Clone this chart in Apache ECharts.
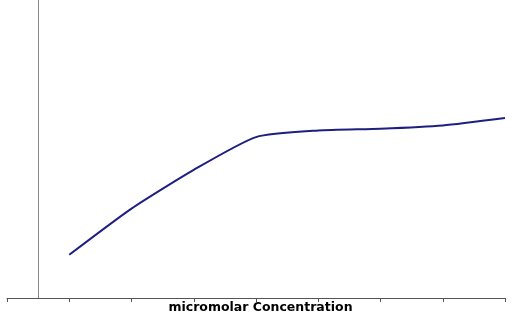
<!DOCTYPE html>
<html>
<head>
<meta charset="utf-8">
<script src="https://cdn.jsdelivr.net/npm/echarts@6/dist/echarts.min.js"></script>
<style>html,body{margin:0;padding:0;background:#fff}#c{width:513px;height:314px}</style>
</head>
<body>
<div id="c"></div>
<script>
var xValues = [1, 2, 3, 4, 5, 6, 7, 8];
var yValues = [14.5, 30.0, 43.0, 54.0, 56.2, 56.8, 57.9, 60.4];
var xAxisName = "micromolar Concentration";

var data = xValues.map(function (x, i) { return [x, yValues[i]]; });
var chart = echarts.init(document.getElementById('c'), null, {renderer: 'canvas'});
chart.setOption({
  animation: false,
  grid: {left: 7, right: 8, top: 0, bottom: 16, containLabel: false, outerBoundsMode: 'none'},
  xAxis: {
    type: 'value', min: 0, max: 8, interval: 1,
    name: xAxisName, nameLocation: 'middle', nameGap: 3,
    nameTextStyle: {fontFamily: 'DejaVu Sans, sans-serif', fontWeight: 'bold', fontSize: 12.5, color: '#000', padding: [0, 0, 0, 9], verticalAlign: 'top'},
    axisLine: {onZero: false, lineStyle: {color: '#555', width: 1}},
    axisTick: {show: true, length: 4, inside: false, lineStyle: {color: '#555'}},
    axisLabel: {show: false},
    splitLine: {show: false}
  },
  yAxis: {
    type: 'value', min: 0, max: 100, offset: -31,
    axisLine: {show: true, lineStyle: {color: '#888', width: 1}},
    axisTick: {show: false},
    axisLabel: {show: false},
    splitLine: {show: false}
  },
  series: [{
    type: 'line', data: data, smooth: 0.2, symbol: 'none',
    lineStyle: {color: '#1f1f80', width: 2}
  }]
});
</script>
</body>
</html>
